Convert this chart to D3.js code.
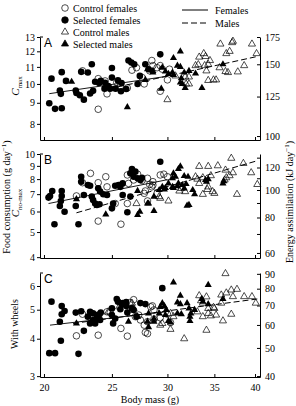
<!DOCTYPE html>
<html>
<head>
<meta charset="utf-8">
<script src="https://cdn.jsdelivr.net/npm/d3@7"></script>
<style>
  body { margin: 0; background: #fff; }
  svg { display: block; }
  svg text { font-family: "Liberation Serif", "Times New Roman", Times, serif; fill: #000; }
</style>
</head>
<body>
<div id="chart"></div>
<script>
// ---- data: [body mass (g), value] ----
const selFemA = [[20.5,10.3],[20.35,8.98],[20.74,8.7],[21.2,10.68],[21.5,10.17],[21.2,8.73],[21.07,9.64],[21.14,9.46],[22.2,9.64],[22.6,10.7],[23.1,10.66],[23.4,11.16],[22.25,9.51],[22.5,9.39],[22.8,9.16],[23.27,9.48],[23.5,9.62],[23.97,10.05],[24.1,10.17],[24.4,9.74],[25.0,10.36],[25.0,10.93],[24.86,9.74],[25.8,10.05],[26.4,11.4],[26.65,11.27],[26.9,11.16],[26.2,9.72],[25.3,9.74],[28.2,10.86],[25.75,9.6],[23.66,10.12],[24.45,10.06],[24.7,9.88],[25.5,10.2],[27.4,10.46],[27.2,10.0],[29.3,11.8],[27.9,11.16]];
const ctrlFemA = [[22.7,10.76],[23.9,8.68],[24.6,9.46],[23.9,10.3],[25.4,10.09],[26.3,9.78],[26.7,10.8],[27.1,10.95],[27.6,10.37],[27.8,10.0],[28.3,10.76],[28.5,11.4],[28.6,11.08],[29.3,11.08],[29.5,10.86],[30.0,10.23],[29.3,9.6],[30.2,10.86],[29.0,10.95],[24.45,10.17],[25.7,9.88]];
const ctrlMaleA = [[35.7,12.5],[37.1,12.6],[37.2,12.7],[39.6,12.5],[36.4,11.85],[36.8,12.0],[40.2,11.85],[33.8,11.85],[34.0,11.66],[33.3,11.62],[32.9,11.08],[33.2,11.14],[34.3,11.16],[34.5,11.4],[33.9,11.08],[35.6,10.95],[36.3,10.72],[36.6,10.66],[37.8,10.7],[38.6,11.08],[34.3,10.2],[34.9,10.23],[35.2,10.23],[31.8,10.4],[32.2,10.4],[31.9,10.0],[32.2,10.0],[30.0,9.16],[34.1,10.76],[30.8,10.46]];
const selMaleA = [[21.9,10.12],[26.3,8.78],[31.3,12.0],[30.6,11.56],[31.0,11.08],[31.3,11.0],[32.2,10.76],[31.7,10.66],[32.9,10.6],[30.5,10.66],[30.6,10.52],[30.1,10.58],[31.4,10.32],[31.3,10.08],[31.5,10.0],[31.8,9.78],[33.6,9.78],[29.4,9.74],[29.8,10.72],[29.5,10.95],[36.0,11.16],[28.1,10.86],[28.6,10.76],[28.6,10.66],[27.9,10.23]];
const femLineA = [[20.35,9.47],[30,10.44]];
const maleLineA = [[25.5,9.84],[40.3,11.66]];

const selFemB = [[20.4,6.89],[20.3,6.79],[20.55,7.2],[20.7,5.36],[21.2,6.89],[21.2,7.2],[21.07,6.3],[21.14,6.59],[21.4,5.99],[22.4,5.36],[22.6,8.17],[22.6,7.82],[22.2,6.3],[22.8,6.95],[23.1,7.59],[23.27,7.54],[23.4,6.85],[23.5,6.65],[23.66,6.44],[23.8,6.36],[24.0,6.4],[23.9,7.37],[24.05,7.16],[24.3,6.99],[25.0,6.17],[25.1,6.44],[25.27,7.54],[25.55,7.59],[25.7,7.47],[25.9,6.95],[25.9,7.7],[26.7,8.75],[27.0,8.55],[26.56,8.42],[26.85,8.17],[27.2,8.06],[26.3,5.96],[26.56,6.85],[27.6,8.1],[27.45,7.94],[29.3,9.34],[24.6,6.95]];
const ctrlFemB = [[22.25,6.89],[22.7,7.75],[23.3,8.42],[23.9,7.75],[24.5,8.17],[24.6,7.47],[25.27,6.44],[23.9,5.51],[25.75,5.36],[26.3,8.3],[26.3,6.44],[26.4,7.7],[26.85,7.94],[27.2,8.36],[27.6,7.9],[27.8,7.05],[28.1,8.06],[28.1,6.59],[28.3,7.63],[28.6,7.59],[28.6,7.82],[28.5,7.47],[29.3,8.3],[29.65,8.36],[30.0,8.17],[29.0,7.05],[27.9,7.2]];
const ctrlMaleB = [[27.1,6.44],[37.0,9.63],[38.5,9.2],[33.3,8.96],[36.3,8.67],[34.3,8.96],[35.4,9.01],[37.2,8.47],[39.5,8.47],[40.3,7.63],[32.9,8.17],[33.1,8.0],[33.7,8.1],[34.6,8.25],[33.3,7.7],[34.3,7.47],[34.2,7.3],[33.7,6.99],[34.8,7.16],[35.0,7.05],[36.4,8.1],[36.8,8.25],[36.2,7.94],[37.7,6.99],[30.1,6.59],[29.2,6.85],[29.3,6.75],[31.4,7.37],[31.8,7.16],[31.2,7.2]];
const selMaleB = [[22.25,6.7],[24.5,5.85],[27.2,7.2],[27.4,5.99],[27.2,5.82],[28.1,6.44],[31.3,8.96],[31.1,8.75],[30.6,8.42],[31.7,8.22],[32.1,8.17],[30.8,8.17],[30.5,8.06],[30.1,7.7],[29.8,7.4],[29.7,7.3],[29.5,7.47],[30.5,7.47],[30.6,7.4],[31.0,7.52],[31.1,7.7],[31.5,7.59],[31.7,7.37],[32.6,7.26],[32.8,6.99],[34.0,7.94],[34.3,8.0],[34.1,7.82],[36.0,7.7],[36.1,7.86],[28.2,6.44],[28.7,6.03],[28.7,6.85],[29.2,7.26],[32.0,6.32],[32.2,6.36],[31.9,7.66]];
const femLineB = [[20.3,6.44],[30,7.96]];
const maleLineB = [[22.25,5.93],[40.2,9.4]];

const selFemC = [[20.5,5.32],[20.35,3.58],[20.74,3.58],[21.2,5.14],[21.2,4.83],[21.4,4.95],[21.07,4.56],[21.14,3.94],[22.2,4.89],[22.6,4.94],[22.4,3.56],[22.8,4.25],[23.27,4.92],[23.1,4.74],[23.5,4.62],[23.5,4.86],[23.8,4.67],[23.27,4.5],[23.66,4.5],[23.8,4.8],[24.0,4.83],[24.05,4.62],[24.1,4.89],[25.0,5.05],[25.4,5.43],[25.5,5.32],[25.8,5.22],[25.7,5.02],[25.9,5.26],[26.2,5.3],[26.2,5.14],[26.7,5.05],[26.85,4.99],[27.45,5.26],[27.9,5.22],[26.3,4.89],[25.0,4.8],[25.27,4.67],[25.1,4.5],[27.1,4.74],[29.5,5.9]];
const ctrlFemC = [[22.25,4.09],[23.9,4.11],[22.7,4.83],[24.6,4.92],[24.86,4.89],[25.75,4.33],[26.3,4.08],[26.6,5.02],[26.85,5.4],[26.5,5.28],[27.0,4.74],[27.3,4.8],[27.45,4.62],[27.8,4.44],[28.1,4.16],[28.1,4.56],[28.4,5.11],[28.55,5.15],[28.7,4.99],[27.9,4.2],[28.7,4.65],[29.3,4.7],[30.0,4.83],[29.4,5.02],[30.3,4.53]];
const ctrlMaleC = [[24.7,4.92],[25.6,5.11],[26.7,5.26],[26.85,5.05],[36.3,6.6],[37.0,5.82],[37.7,5.85],[36.4,5.69],[35.8,5.6],[37.2,5.53],[38.6,5.53],[39.6,5.53],[40.1,5.26],[33.3,5.57],[34.1,5.52],[33.5,5.36],[33.7,5.26],[34.3,5.05],[34.9,5.09],[35.8,5.26],[29.3,4.44],[29.5,4.5],[31.7,4.0],[34.1,4.27],[33.7,4.74],[34.3,4.86],[34.6,4.77],[35.0,5.05],[35.2,4.8],[36.0,4.59],[37.0,4.83],[30.3,4.3],[33.1,4.92],[30.3,4.86],[30.6,4.74]];
const selMaleC = [[22.25,4.5],[26.4,4.56],[27.2,4.74],[28.1,4.56],[28.2,4.86],[30.6,6.17],[34.3,6.05],[31.3,5.57],[31.0,5.29],[31.3,5.22],[32.0,5.26],[29.5,5.26],[29.7,5.14],[29.9,4.99],[29.8,4.8],[30.1,4.59],[30.3,4.53],[31.0,4.86],[31.4,4.83],[32.2,5.05],[32.4,4.86],[32.3,4.74],[32.8,4.99],[32.3,4.59],[33.6,5.43],[33.7,5.32],[34.3,5.22],[36.0,5.43],[28.2,4.37],[28.7,4.67],[28.7,4.56],[29.3,5.11],[29.2,4.86]];
const femLineC = [[20.4,4.44],[30,4.93]];
const maleLineC = [[22.0,4.5],[40.3,5.43]];

const massTicks = [20, 25, 30, 35, 40];
const leftTicksA = [8, 9, 10, 11, 12, 13];
const rightTicksA = [100, 125, 150, 175];
const leftTicksB = [4, 5, 6, 7, 8, 9, 10];
const rightTicksB = [60, 70, 80, 90, 100, 110, 120, 130];
const rightLabelsB = [60, 80, 100, 120];
const leftTicksC = [3, 4, 5, 6];
const rightTicksC = [40, 50, 60, 70, 80, 90];

// ---- layout ----
const W = 296, H = 406;
const x0 = 40, x1 = 260;
const SERIF = '"Liberation Serif", "Times New Roman", Times, serif';
const svg = d3.select("#chart").append("svg").attr("width", W).attr("height", H)
  .style("font-family", SERIF);

const x = d3.scaleLog().domain([19.74, 40.66]).range([x0, x1]);

const panels = [
  { letter: "A", top: 37, bottom: 140, left: [7.31, 13], right: [97.8, 175],
    leftTicks: leftTicksA, rightTicks: rightTicksA, rightLabels: rightTicksA,
    cf: ctrlFemA, sf: selFemA, cm: ctrlMaleA, sm: selMaleA, fl: femLineA, ml: maleLineA },
  { letter: "B", top: 154, bottom: 258, left: [3.97, 10], right: [57.6, 133.9],
    leftTicks: leftTicksB, rightTicks: rightTicksB, rightLabels: rightLabelsB,
    cf: ctrlFemB, sf: selFemB, cm: ctrlMaleB, sm: selMaleB, fl: femLineB, ml: maleLineB },
  { letter: "C", top: 273, bottom: 377, left: [2.98, 6.63], right: [39.7, 90.6],
    leftTicks: leftTicksC, rightTicks: rightTicksC, rightLabels: rightTicksC,
    cf: ctrlFemC, sf: selFemC, cm: ctrlMaleC, sm: selMaleC, fl: femLineC, ml: maleLineC }
];

const tri = d3.symbol().type(d3.symbolTriangle).size(22);
const fmt = d3.format("d");

panels.forEach((p, i) => {
  const y = d3.scaleLog().domain(p.left).range([p.bottom, p.top]);
  const yr = d3.scaleLog().domain(p.right).range([p.bottom, p.top]);
  const g = svg.append("g");

  // left axis (outward ticks)
  const la = g.append("g").attr("transform", `translate(${x0},0)`)
    .call(d3.axisLeft(y).tickValues(p.leftTicks).tickFormat(fmt).tickSize(3).tickSizeOuter(0).tickPadding(2));
  // right axis (inward ticks)
  const ra = g.append("g").attr("transform", `translate(${x1},0)`)
    .call(d3.axisRight(yr).tickValues(p.rightTicks)
      .tickFormat(d => p.rightLabels.includes(d) ? fmt(d) : "")
      .tickSize(-3).tickSizeOuter(0).tickPadding(5));
  // bottom axis (inward ticks)
  const ba = g.append("g").attr("transform", `translate(0,${p.bottom})`)
    .call(d3.axisBottom(x).tickValues(massTicks).tickFormat(i === 2 ? fmt : "")
      .tickSize(-3).tickSizeOuter(0).tickPadding(7));

  [la, ra, ba].forEach(a => {
    a.attr("font-family", SERIF).attr("font-size", 10);
    a.select(".domain").attr("stroke", "#000").attr("stroke-width", 1);
    a.selectAll(".tick line").attr("stroke", "#000");
    a.selectAll(".tick text").attr("fill", "#000");
  });
  // small top tick on left axis
  g.append("line").attr("x1", x0).attr("x2", x0 + 3).attr("y1", p.top).attr("y2", p.top).attr("stroke", "#000");

  // panel letter
  g.append("text").attr("x", 44).attr("y", p.top + 10)
    .style("font-family", '"Liberation Sans", Arial, sans-serif').style("font-size", "12px")
    .text(p.letter);

  // regression lines
  const line = d3.line().x(d => x(d[0])).y(d => y(d[1]));
  g.append("path").datum(p.fl).attr("d", line).attr("fill", "none").attr("stroke", "#000").attr("stroke-width", 0.9);
  g.append("path").datum(p.ml).attr("d", line).attr("fill", "none").attr("stroke", "#000").attr("stroke-width", 1)
    .attr("stroke-dasharray", "6,3");

  // points
  g.append("g").selectAll("path").data(p.cm).join("path")
    .attr("d", tri).attr("transform", d => `translate(${x(d[0])},${y(d[1])})`)
    .attr("fill", "none").attr("stroke", "#000").attr("stroke-width", 0.7);
  g.append("g").selectAll("circle").data(p.cf).join("circle")
    .attr("cx", d => x(d[0])).attr("cy", d => y(d[1])).attr("r", 3.3)
    .attr("fill", "none").attr("stroke", "#000").attr("stroke-width", 0.7);
  g.append("g").selectAll("circle").data(p.sf).join("circle")
    .attr("cx", d => x(d[0])).attr("cy", d => y(d[1])).attr("r", 3.3).attr("fill", "#000");
  g.append("g").selectAll("path").data(p.sm).join("path")
    .attr("d", tri).attr("transform", d => `translate(${x(d[0])},${y(d[1])})`).attr("fill", "#000");
});

// ---- axis titles ----
function vlabel(cx, cy, build) {
  const t = svg.append("text").attr("text-anchor", "middle")
    .attr("transform", `translate(${cx},${cy}) rotate(-90)`).style("font-size", "10px");
  build(t);
}
vlabel(19, 86, t => {
  t.append("tspan").style("font-style", "italic").style("font-size", "11px").text("C");
  t.append("tspan").style("font-size", "7px").attr("dy", 2.5).text("max");
});
vlabel(19, 203, t => {
  t.append("tspan").style("font-style", "italic").style("font-size", "11px").text("C");
  t.append("tspan").style("font-size", "7px").attr("dy", 2.5).text("no-max");
});
vlabel(10, 197, t => {
  t.append("tspan").text("Food consumption (g day");
  t.append("tspan").style("font-size", "7px").attr("dy", -4).text("−1");
  t.append("tspan").attr("dy", 4).text(")");
});
vlabel(18, 324, t => t.text("With wheels"));
vlabel(293, 202, t => {
  t.append("tspan").text("Energy assimilation (kJ day");
  t.append("tspan").style("font-size", "7px").attr("dy", -4).text("−1");
  t.append("tspan").attr("dy", 4).text(")");
});
svg.append("text").attr("x", 150).attr("y", 403).attr("text-anchor", "middle")
  .style("font-size", "10px").text("Body mass (g)");

// ---- legends ----
const legendItems = [
  { label: "Control females", shape: "circle", fill: "none" },
  { label: "Selected females", shape: "circle", fill: "#000" },
  { label: "Control males", shape: "tri", fill: "none" },
  { label: "Selected males", shape: "tri", fill: "#000" }
];
const lg = svg.append("g");
legendItems.forEach((d, k) => {
  const cy = 8 + k * 12;
  if (d.shape === "circle") {
    lg.append("circle").attr("cx", 65).attr("cy", cy).attr("r", 3.3)
      .attr("fill", d.fill).attr("stroke", "#000").attr("stroke-width", 0.7);
  } else {
    lg.append("path").attr("d", tri).attr("transform", `translate(65,${cy})`)
      .attr("fill", d.fill).attr("stroke", "#000").attr("stroke-width", 0.7);
  }
  lg.append("text").attr("x", 73).attr("y", cy + 3.5).style("font-size", "10px").text(d.label);
});
const lineLegend = [{ label: "Females", dash: null }, { label: "Males", dash: "6,3" }];
lineLegend.forEach((d, k) => {
  const cy = 10 + k * 13;
  lg.append("line").attr("x1", 182).attr("x2", 208).attr("y1", cy).attr("y2", cy)
    .attr("stroke", "#000").attr("stroke-width", 1).attr("stroke-dasharray", d.dash);
  lg.append("text").attr("x", 215).attr("y", cy + 3.5).style("font-size", "10px").text(d.label);
});
</script>
</body>
</html>
